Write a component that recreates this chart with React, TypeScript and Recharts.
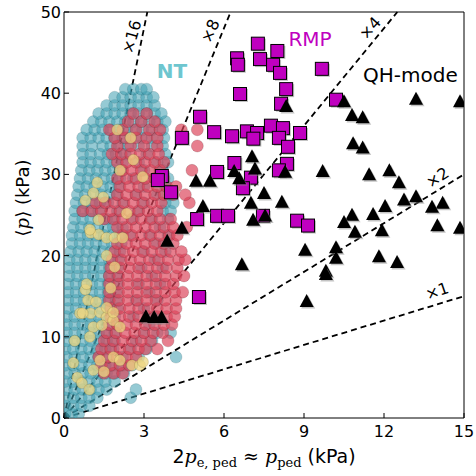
import React from 'react'
import { ScatterChart, Scatter, XAxis, YAxis, ReferenceLine, ReferenceDot } from 'recharts'

// axis ticks
const xTicks = [0, 3, 6, 9, 12, 15]
const yTicks = [0, 10, 20, 30, 40, 50]

// guide lines <p> = k * p_ped
const slopes = [16, 8, 4, 2, 1]

// NT cloud, read row by row: [y, x, x, ...]
const ntTealRows: number[][] = [
  [0.5, 0.05, 0.3, 0.55],
  [1.5, 0.05, 0.35, 0.65, 0.95],
  [2.5, 0.05, 0.35, 0.65, 0.95, 1.25, 2.5],
  [3.5, 0.1, 0.4, 0.7, 1.0, 1.3, 1.6, 2.7],
  [4.5, 0.05, 0.35, 0.65, 0.95, 1.25, 1.55, 1.9],
  [5.5, 0.1, 0.4, 0.7, 1.0, 1.3, 1.6, 1.9, 2.25],
  [6.5, 0.05, 0.35, 0.65, 0.95, 1.25, 1.55, 1.85, 2.2, 2.55],
  [7.5, 0.1, 0.4, 0.7, 1.0, 1.3, 1.6, 2.2, 2.8, 4.2],
  [8.5, 0.05, 0.35, 0.65, 0.95, 1.25, 1.55, 1.85, 2.5, 3.1],
  [9.5, 0.1, 0.4, 0.7, 1.0, 1.3, 1.6, 1.9, 2.7, 3.3],
  [10.5, 0.1, 0.4, 0.7, 1.0, 1.3, 1.6, 1.9, 3.0, 3.5, 4.0],
  [11.5, 0.1, 0.4, 0.7, 1.0, 1.3, 1.6, 2.0, 3.2],
  [12.5, 0.1, 0.4, 0.7, 1.0, 1.3, 1.6, 1.9, 2.6, 3.4],
  [13.5, 0.15, 0.45, 0.75, 1.05, 1.35, 1.65, 2.0, 3.0],
  [14.5, 0.15, 0.45, 0.75, 1.05, 1.35, 1.65, 1.95, 2.7, 3.5],
  [15.5, 0.15, 0.45, 0.75, 1.05, 1.35, 1.65, 1.95, 3.2],
  [16.5, 0.15, 0.45, 0.75, 1.05, 1.35, 1.65, 2.0, 2.8, 3.6],
  [17.5, 0.2, 0.5, 0.8, 1.1, 1.4, 1.7, 2.0, 3.3],
  [18.5, 0.2, 0.5, 0.8, 1.1, 1.4, 1.7, 2.0, 2.9, 3.7],
  [19.5, 0.2, 0.5, 0.8, 1.1, 1.4, 1.7, 2.05, 3.4],
  [20.5, 0.25, 0.55, 0.85, 1.15, 1.45, 1.75, 2.1, 3.0, 3.8],
  [21.5, 0.3, 0.6, 0.9, 1.2, 1.5, 1.8, 2.15, 3.5],
  [22.5, 0.3, 0.6, 0.9, 1.2, 1.5, 1.8, 2.1, 2.45, 3.2, 3.9],
  [23.5, 0.35, 0.65, 0.95, 1.25, 1.55, 1.85, 2.2, 3.6],
  [24.5, 0.4, 0.7, 1.0, 1.3, 1.6, 1.9, 2.6, 3.3, 3.9],
  [25.5, 0.4, 0.7, 1.0, 1.3, 2.0, 2.8, 3.7, 4.0],
  [26.5, 0.45, 0.75, 1.05, 1.35, 1.65, 2.2, 3.0, 3.8, 4.1],
  [27.5, 0.5, 0.8, 1.1, 1.4, 1.7, 2.0, 2.7, 3.5, 4.0],
  [28.5, 0.55, 0.85, 1.15, 1.45, 1.75, 2.05, 3.0, 3.8],
  [29.5, 0.6, 0.9, 1.2, 1.5, 1.8, 2.1, 2.6, 3.4, 3.9],
  [30.5, 0.65, 0.95, 1.25, 1.55, 1.85, 2.15, 3.0, 3.7],
  [31.5, 0.7, 1.0, 1.3, 1.6, 1.9, 2.2, 2.8, 3.5, 3.9],
  [32.5, 0.7, 1.0, 1.35, 1.65, 1.95, 2.3, 3.1, 3.8],
  [33.5, 0.7, 1.05, 1.45, 1.75, 2.05, 2.4, 2.8, 3.3, 3.7],
  [34.5, 0.7, 1.0, 1.3, 1.6, 1.9, 2.2, 2.5, 2.9, 3.3, 3.75],
  [35.5, 0.85, 1.15, 1.45, 1.75, 2.05, 2.35, 2.65, 2.95, 3.3, 3.7],
  [36.5, 1.1, 1.4, 1.7, 2.0, 2.3, 2.6, 2.9, 3.2, 3.5, 3.8],
  [37.5, 1.3, 1.6, 1.9, 2.2, 2.5, 2.8, 3.1, 3.4, 3.65],
  [38.5, 1.6, 1.9, 2.2, 2.5, 2.8, 3.1, 3.4],
  [39.5, 1.9, 2.2, 2.5, 2.8, 3.1, 3.35],
  [40.5, 2.3, 2.6, 2.9, 3.1],
]

const ntRedRows: number[][] = [
  [5.5, 1.5, 1.85, 2.2],
  [6.5, 1.4, 1.75, 2.1, 2.45],
  [7.5, 1.3, 1.65, 2.0, 2.35, 2.7],
  [8.5, 1.4, 1.75, 2.1, 2.45, 2.8, 3.05, 3.5],
  [9.5, 1.5, 1.85, 2.2, 2.55, 2.9, 3.25, 3.9],
  [10.5, 1.6, 1.95, 2.3, 2.65, 3.0, 3.35, 3.7],
  [11.5, 1.7, 2.0, 2.35, 2.7, 3.05, 3.4, 3.75, 4.05],
  [12.5, 1.75, 2.1, 2.45, 2.8, 3.15, 3.5, 3.85, 4.15],
  [13.5, 1.75, 2.1, 2.45, 2.8, 3.15, 3.5, 3.85, 4.2],
  [14.5, 1.7, 2.05, 2.4, 2.75, 3.1, 3.45, 3.8, 4.2],
  [15.5, 1.7, 2.05, 2.4, 2.75, 3.1, 3.45, 3.8, 4.15, 4.45],
  [16.5, 1.7, 2.05, 2.4, 2.75, 3.1, 3.45, 3.8, 4.1],
  [17.5, 1.7, 2.05, 2.4, 2.75, 3.1, 3.45, 3.8, 4.2, 4.5],
  [18.5, 1.75, 2.1, 2.45, 2.8, 3.15, 3.5, 3.85, 4.25],
  [19.5, 1.8, 2.15, 2.5, 2.85, 3.2, 3.55, 3.9, 4.3, 4.55],
  [20.5, 1.9, 2.25, 2.6, 2.95, 3.3, 3.65, 4.0, 4.4],
  [21.5, 2.0, 2.35, 2.7, 3.05, 3.4, 3.75, 4.1],
  [22.5, 2.2, 2.55, 2.9, 3.25, 3.6, 3.95, 4.25],
  [23.5, 2.0, 2.35, 2.7, 3.05, 3.4, 3.75, 4.1, 4.6],
  [24.5, 1.5, 1.85, 2.2, 2.55, 2.9, 3.25, 3.6, 4.0],
  [25.5, 0.7, 1.05, 1.4, 1.75, 2.1, 2.45, 2.8, 3.15, 3.5],
  [26.5, 1.2, 1.55, 1.9, 2.25, 2.6, 2.95, 3.3, 3.65, 4.7],
  [27.5, 2.0, 2.35, 2.7, 3.05, 3.4, 3.75, 4.1, 4.55],
  [28.5, 2.1, 2.45, 2.8, 3.15, 3.5, 3.85, 4.2],
  [29.5, 2.0, 2.35, 2.7, 3.05, 3.4, 3.75],
  [30.5, 2.2, 2.55, 2.9, 3.25, 3.6, 4.8],
  [31.5, 2.0, 2.35, 2.7, 3.05, 3.4, 3.75],
  [32.5, 1.8, 2.15, 2.5, 2.85, 3.2, 3.55],
  [33.5, 2.0, 2.5, 3.0, 3.5, 5.0],
  [34.5, 1.9, 2.3, 2.7, 3.1, 3.5],
  [35.5, 1.7, 2.2, 2.7, 3.2, 3.6, 4.4, 5.0],
  [36.5, 2.4, 2.9, 3.4],
  [37.5, 2.6, 3.1],
]

const ntYellow: number[][] = [
  [1.0, 22.8], [1.3, 22.6], [1.6, 20.0], [0.8, 15.8], [0.9, 14.5], [1.2, 14.3],
  [0.6, 12.9], [1.0, 12.9], [1.35, 13.0], [1.6, 12.4], [1.85, 12.0], [1.1, 11.2],
  [1.42, 11.4], [0.97, 10.0], [2.1, 11.2], [1.35, 7.1], [1.85, 7.5], [2.55, 6.5],
  [2.85, 6.5], [1.1, 5.9], [0.5, 5.0], [0.67, 4.3], [2.1, 7.1], [2.96, 6.9],
  [2.6, 31.8], [2.1, 30.5], [1.47, 27.2], [1.1, 27.7], [0.8, 26.8], [1.3, 24.4],
  [0.97, 23.2], [1.6, 22.2], [2.35, 25.2], [2.95, 29.7], [1.9, 22.2], [2.2, 22.2],
  [0.7, 12.9], [1.6, 13.6], [1.85, 13.0], [0.85, 16.5], [1.9, 18.6], [1.75, 16.0],
  [0.35, 6.8], [1.5, 5.7], [0.95, 3.5], [1.25, 29.0], [2.5, 34.5], [2.0, 35.5], [0.4, 9.5],
]

// RMP (squares) and QH-mode (triangles): [x, y]
const rmpPoints: number[][] = [
  [6.49, 44.3], [6.52, 43.5], [7.27, 46.1], [8.0, 45.2], [7.35, 44.2], [7.84, 43.5],
  [8.1, 42.5], [8.33, 40.5], [6.6, 39.9], [8.14, 38.7], [9.67, 43.0], [10.2, 39.2],
  [5.1, 37.1], [5.63, 35.2], [6.3, 34.7], [6.86, 35.3], [7.24, 35.1], [7.1, 34.4],
  [7.76, 36.0], [8.21, 35.7], [8.06, 34.5], [8.4, 33.4], [8.85, 35.1], [6.39, 31.4],
  [5.74, 30.3], [8.36, 31.3], [8.06, 30.5], [7.01, 29.6], [6.71, 28.3], [3.67, 29.8],
  [3.52, 29.3], [4.01, 27.8], [4.42, 34.5], [4.99, 24.5], [5.74, 24.9], [6.15, 24.9],
  [7.46, 24.9], [8.74, 24.3], [9.15, 23.7], [5.06, 14.9],
]

const qhPoints: number[][] = [
  [10.5, 38.9], [10.8, 37.2], [11.2, 36.9], [13.2, 39.2], [14.85, 38.9], [10.84, 33.7],
  [11.2, 33.2], [9.7, 30.3], [11.44, 29.9], [12.2, 30.4], [12.56, 28.9], [12.75, 26.8],
  [13.2, 27.2], [14.2, 26.4], [13.8, 25.9], [8.33, 38.3], [7.05, 32.1], [6.38, 30.3],
  [7.16, 30.6], [6.57, 29.4], [8.29, 30.2], [5.47, 29.1], [4.95, 29.1], [7.5, 27.6],
  [7.01, 26.4], [8.17, 26.5], [5.21, 26.0], [7.09, 24.3], [7.54, 24.8], [10.8, 24.9],
  [11.59, 25.0], [12.04, 26.0], [14.0, 23.6], [14.85, 23.3], [10.5, 24.0], [10.91, 22.8],
  [11.92, 23.0], [9.04, 20.6], [10.2, 20.9], [10.2, 19.6], [11.81, 19.8], [12.49, 19.1],
  [9.82, 18.0], [9.82, 17.6], [6.67, 18.8], [9.1, 14.3], [4.42, 23.3], [3.87, 21.7],
  [3.07, 12.4], [3.38, 12.3], [3.66, 12.3],
]

const lineLabels = [
  { text: '×16', x: 2.54, y: 46.96 },
  { text: '×8', x: 5.48, y: 47.66 },
  { text: '×4', x: 11.48, y: 48.03 },
  { text: '×2', x: 14.0, y: 29.62 },
  { text: '×1', x: 13.99, y: 15.64 },
]
const labelAngles = [-74, -65, -48, -33, -19]

const fromRows = (rows: number[][]) => rows.flatMap(([y, ...xs]) => xs.map((x) => ({ x, y })))
const fromPairs = (pairs: number[][]) => pairs.map(([x, y]) => ({ x, y }))

const tealData = fromRows(ntTealRows)
const redData = fromRows(ntRedRows)
const yellowData = fromPairs(ntYellow)
const rmpData = fromPairs(rmpPoints)
const qhData = fromPairs(qhPoints)

const FONT = 'DejaVu Sans'

const BottomTick = (props: any) => {
  const { x, y, payload } = props
  return (
    <g>
      <line x1={x} y1={y} x2={x} y2={y - 5} stroke="#000" />
      <text x={x} y={y + 19} textAnchor="middle" fontSize={16} fontFamily={FONT} fill="#000">
        {payload.value}
      </text>
    </g>
  )
}
const TopTick = (props: any) => <line x1={props.x} y1={props.y} x2={props.x} y2={props.y + 5} stroke="#000" />
const LeftTick = (props: any) => {
  const { x, y, payload } = props
  return (
    <g>
      <line x1={x} y1={y} x2={x + 5} y2={y} stroke="#000" />
      <text x={x - 3} y={y + 6} textAnchor="end" fontSize={16} fontFamily={FONT} fill="#000">
        {payload.value}
      </text>
    </g>
  )
}
const RightTick = (props: any) => <line x1={props.x} y1={props.y} x2={props.x - 5} y2={props.y} stroke="#000" />

const tealDot = (p: any) => (
  <circle cx={p.cx} cy={p.cy} r={6} fill="rgb(62,158,176)" fillOpacity={0.55} stroke="#12353b" strokeOpacity={0.2} strokeWidth={0.7} />
)
const redDot = (p: any) => (
  <circle cx={p.cx} cy={p.cy} r={6} fill="rgb(220,66,88)" fillOpacity={0.68} stroke="#3a0a10" strokeOpacity={0.25} strokeWidth={0.7} />
)
const yellowDot = (p: any) => (
  <circle cx={p.cx} cy={p.cy} r={5.5} fill="rgb(236,214,130)" fillOpacity={0.75} stroke="#5a4a10" strokeOpacity={0.25} strokeWidth={0.7} />
)
const square = (p: any) => (
  <g>
    <rect x={p.cx - 5} y={p.cy - 5} width={13} height={13} fill="#888" fillOpacity={0.5} />
    <rect x={p.cx - 6.5} y={p.cy - 6.5} width={13} height={13} fill="#bf00bf" stroke="#000" strokeWidth={1} />
  </g>
)
const triangle = (p: any) => (
  <g>
    <polygon points={`${p.cx + 1.5},${p.cy - 6.5} ${p.cx - 5.5},${p.cy + 6.5} ${p.cx + 8.5},${p.cy + 6.5}`} fill="#888" fillOpacity={0.5} />
    <polygon points={`${p.cx},${p.cy - 8} ${p.cx - 7},${p.cy + 5} ${p.cx + 7},${p.cy + 5}`} fill="#000" />
  </g>
)

export default function App() {
  return (
    <div style={{ position: 'absolute', left: 0, top: 0, width: 476, height: 476, background: '#fff' }}>
      <ScatterChart width={476} height={476} margin={{ top: 10, right: 10, bottom: 18, left: 14 }}>
        <XAxis
          type="number"
          dataKey="x"
          domain={[0, 15]}
          ticks={xTicks}
          interval={0}
          height={40}
          tickSize={0}
          tickMargin={0}
          tickLine={false}
          axisLine={{ stroke: '#000' }}
          tick={<BottomTick />}
          allowDataOverflow
        />
        <XAxis
          xAxisId="top"
          orientation="top"
          type="number"
          domain={[0, 15]}
          ticks={xTicks}
          interval={0}
          height={2}
          tickSize={0}
          tickMargin={0}
          tickLine={false}
          axisLine={{ stroke: '#000' }}
          tick={<TopTick />}
        />
        <YAxis
          type="number"
          dataKey="y"
          domain={[0, 50]}
          ticks={yTicks}
          interval={0}
          width={50}
          tickSize={0}
          tickMargin={0}
          tickLine={false}
          axisLine={{ stroke: '#000' }}
          tick={<LeftTick />}
          allowDataOverflow
        />
        <YAxis
          yAxisId="right"
          orientation="right"
          type="number"
          domain={[0, 50]}
          ticks={yTicks}
          interval={0}
          width={2}
          tickSize={0}
          tickMargin={0}
          tickLine={false}
          axisLine={{ stroke: '#000' }}
          tick={<RightTick />}
        />
        <Scatter data={tealData} shape={tealDot} isAnimationActive={false} />
        <Scatter data={redData} shape={redDot} isAnimationActive={false} />
        <Scatter data={yellowData} shape={yellowDot} isAnimationActive={false} />
        {slopes.map((k) => {
          const xe = Math.min(15, 50 / k)
          return (
            <ReferenceLine
              key={k}
              segment={[{ x: 0, y: 0 }, { x: xe, y: k * xe }]}
              stroke="#000"
              strokeWidth={1.8}
              strokeDasharray="6 4"
            />
          )
        })}
        {lineLabels.map((l, i) => (
          <ReferenceDot
            key={l.text}
            x={l.x}
            y={l.y}
            r={0}
            shape={(p: any) => (
              <text
                x={p.cx}
                y={p.cy}
                transform={`rotate(${labelAngles[i]} ${p.cx} ${p.cy})`}
                textAnchor="middle"
                dominantBaseline="central"
                fontSize={16}
                fontFamily={FONT}
                fill="#000"
              >
                {l.text}
              </text>
            )}
          />
        ))}
        <Scatter data={rmpData} shape={square} isAnimationActive={false} />
        <Scatter data={qhData} shape={triangle} isAnimationActive={false} />
      </ScatterChart>
      <svg width={476} height={476} style={{ position: 'absolute', left: 0, top: 0, pointerEvents: 'none' }}>
        <text x={172} y={78} textAnchor="middle" fontSize={20} fontWeight="bold" fontFamily={FONT} fill="#6ec6cf">
          NT
        </text>
        <text x={310} y={46} textAnchor="middle" fontSize={20} fontFamily={FONT} fill="#bf00bf">
          RMP
        </text>
        <text x={363} y={82} fontSize={20} fontFamily={FONT} fill="#000">
          QH-mode
        </text>
        <text transform="translate(29,198) rotate(-90)" textAnchor="middle" fontSize={18} fontFamily={FONT} fill="#000">
          ⟨<tspan fontFamily="DejaVu Serif" fontStyle="italic">p</tspan>⟩ (kPa)
        </text>
        <text x={264} y={463} textAnchor="middle" fontSize={19} fontFamily={FONT} fill="#000">
          2<tspan fontFamily="DejaVu Serif" fontStyle="italic">p</tspan>
          <tspan fontFamily="DejaVu Serif" fontSize={13} dy={4}>e, ped</tspan>
          <tspan fontFamily="DejaVu Serif" dy={-4}> ≈ </tspan>
          <tspan fontFamily="DejaVu Serif" fontStyle="italic">p</tspan>
          <tspan fontFamily="DejaVu Serif" fontSize={13} dy={4}>ped</tspan>
          <tspan dy={-4}> (kPa)</tspan>
        </text>
      </svg>
    </div>
  )
}
